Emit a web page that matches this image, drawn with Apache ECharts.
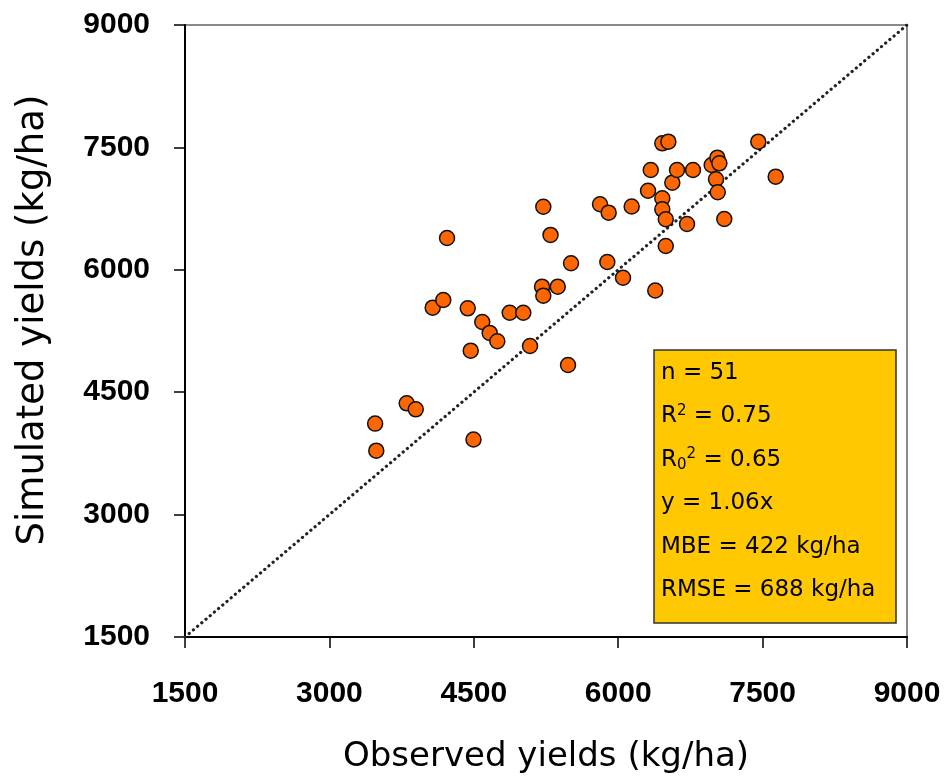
<!DOCTYPE html>
<html>
<head>
<meta charset="utf-8">
<title>Observed vs simulated yields</title>
<script src="https://cdn.jsdelivr.net/npm/echarts@6/dist/echarts.min.js"></script>
<style>
  html, body { margin: 0; padding: 0; background: #fff; }
  #chart { width: 947px; height: 780px; }
</style>
</head>
<body>
<div id="chart"></div>
<script>
// Observed and simulated grain yields (kg/ha), one entry per site-season
const observed = [
  3475, 3487, 3803, 3897, 4073, 4183, 4222, 4437, 4468, 4497,
  4588, 4665, 4744, 4873, 5014, 5084, 5209, 5222, 5222, 5297,
  5372, 5479, 5510, 5811, 5901, 5887, 6050, 6140, 6310, 6338,
  6385, 6458, 6521, 6458, 6458, 6494, 6494, 6562, 6611, 6715,
  6777, 6971, 7030, 7051, 7016, 7034, 7102, 7455, 7636
];
const simulated = [
  4115, 3783, 4364, 4290, 5536, 5630, 6390, 5528, 5009, 3920,
  5360, 5226, 5124, 5474, 5474, 5066, 5793, 5683, 6773, 6427,
  5793, 4833, 6080, 6803, 6700, 6096, 5903, 6776, 6969, 7223,
  5746, 7550, 7570, 6876, 6741, 6619, 6292, 7068, 7223, 6561,
  7223, 7284, 7374, 7305, 7109, 6950, 6623, 7570, 7141
];

// Axis range and tick spacing (same for both axes)
const axisMin = 1500;
const axisMax = 9000;
const tickStep = 1500;

// 1:1 reference line
const oneToOne = [[axisMin, axisMin], [axisMax, axisMax]];

// Goodness-of-fit statistics (rich-text markup for super/subscripts)
const statLines = [
  'n = 51',
  'R{sup|2} = 0.75',
  'R{sub|0}{sup|2} = 0.65',
  'y = 1.06x',
  'MBE = 422 kg/ha',
  'RMSE = 688 kg/ha'
];

const points = observed.map((x, i) => [x, simulated[i]]);

const chart = echarts.init(document.getElementById('chart'), null, { renderer: 'canvas' });

const tickFont = { color: '#000', fontFamily: 'Liberation Sans', fontWeight: 'bold', fontSize: 30 };

const axisCommon = {
  type: 'value',
  min: axisMin,
  max: axisMax,
  interval: tickStep,
  splitLine: { show: false },
  axisLine: { show: true, onZero: false, lineStyle: { color: '#000', width: 2 } },
  axisTick: { show: true, inside: false, length: 11, lineStyle: { color: '#000', width: 1.5 } }
};

// Stats box: a filled panel with one text line per statistic
const boxLeft = 654, boxTop = 350, boxWidth = 242, boxHeight = 273;
const firstLineY = 373, lineStep = 43.4;

const statGraphics = [
  {
    type: 'rect',
    shape: { x: boxLeft, y: boxTop, width: boxWidth, height: boxHeight },
    style: { fill: '#FFC800', stroke: '#333', lineWidth: 1.5 },
    z: 10
  }
].concat(statLines.map((line, i) => ({
  type: 'text',
  x: boxLeft + 7,
  y: firstLineY + i * lineStep,
  z: 11,
  style: {
    text: line,
    fill: '#000',
    fontFamily: 'DejaVu Sans',
    fontSize: 23,
    lineHeight: 26,
    verticalAlign: 'middle',
    rich: {
      sup: { fontFamily: 'DejaVu Sans', fontSize: 15, lineHeight: 14, verticalAlign: 'top', fill: '#000' },
      sub: { fontFamily: 'DejaVu Sans', fontSize: 15, lineHeight: 12, verticalAlign: 'bottom', fill: '#000' }
    }
  }
})));

chart.setOption({
  animation: false,
  backgroundColor: '#fff',
  grid: {
    left: 185, top: 25, right: 40, bottom: 143,
    show: true,
    borderColor: '#8a8a8a',
    borderWidth: 2,
    backgroundColor: 'transparent'
  },
  xAxis: Object.assign({}, axisCommon, {
    name: 'Observed yields (kg/ha)',
    nameLocation: 'middle',
    nameGap: 103,
    nameTextStyle: { color: '#000', fontFamily: 'DejaVu Sans', fontSize: 34 },
    axisLabel: Object.assign({ margin: 42, formatter: v => String(v) }, tickFont)
  }),
  yAxis: Object.assign({}, axisCommon, {
    axisLabel: Object.assign({ margin: 35, formatter: v => String(v) }, tickFont)
  }),
  graphic: [
    {
      type: 'text',
      x: 33,
      y: 320,
      rotation: Math.PI / 2,
      style: {
        text: 'Simulated yields (kg/ha)',
        fill: '#000',
        fontFamily: 'DejaVu Sans',
        fontSize: 37,
        align: 'center',
        verticalAlign: 'middle'
      }
    }
  ].concat(statGraphics),
  series: [
    {
      type: 'line',
      data: oneToOne,
      symbol: 'none',
      silent: true,
      z: 1,
      lineStyle: { color: '#222', width: 3.2, type: [0.1, 5.4], cap: 'round' }
    },
    {
      type: 'scatter',
      data: points,
      symbol: 'circle',
      symbolSize: 15,
      z: 2,
      itemStyle: { color: '#FF6600', borderColor: '#111', borderWidth: 1.5, opacity: 1 }
    }
  ]
});
</script>
</body>
</html>
